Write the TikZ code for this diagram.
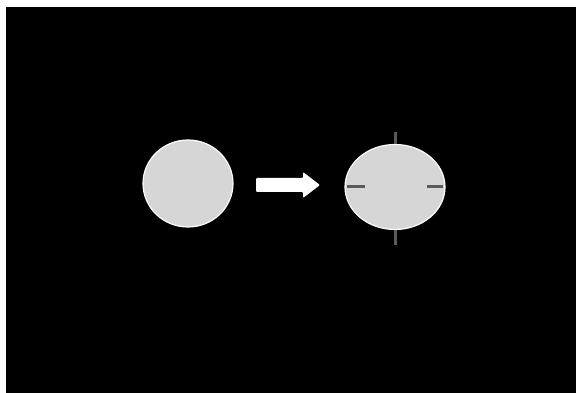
\documentclass[tikz,border=0pt]{standalone}
\usetikzlibrary{shapes.geometric}
\definecolor{disc}{HTML}{D6D6D6}
\definecolor{tick}{HTML}{5A5A5A}
\begin{document}
\begin{tikzpicture}[x=1pt,y=-1pt,
  blob/.style={ellipse,fill=disc,draw=white!92!disc,line width=1.2pt,inner sep=0pt},
  tickmark/.style={draw=tick,line width=3pt}]
\useasboundingbox (0,0) rectangle (576,393);
\fill[white] (0,0) rectangle (576,393);
\fill[black] (6,7) rectangle (576,393);
\node[blob,minimum width=90pt,minimum height=87pt] (left) at (188,183.5) {};
\node[blob,minimum width=100pt,minimum height=85pt] (right) at (395,187) {};
\coordinate (arrstart) at (256,185);
\coordinate (arrtip) at (320,185);
\fill[white,rounded corners=1pt] (arrstart) ++(0,-7) -- ++(47,0) -- ++(0,-6) -- (arrtip) -- ++(-17,13) -- ++(0,-6) -- ++(-47,0) -- cycle;
\draw[tickmark] (395,132) -- (right.north);
\draw[tickmark] (right.south) -- (395,245);
\draw[tickmark] (347,187) -- (365,187);
\draw[tickmark] (427,187) -- (443,187);
\end{tikzpicture}
\end{document}
